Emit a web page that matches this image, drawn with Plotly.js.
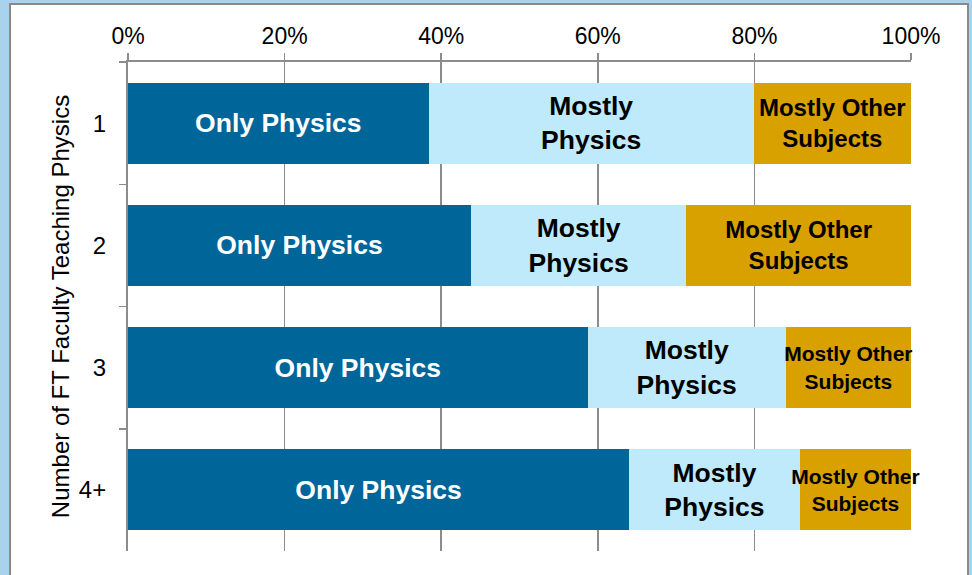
<!DOCTYPE html>
<html>
<head>
<meta charset="utf-8">
<script src="https://cdn.plot.ly/plotly-3.0.1.min.js"></script>
<style>
  html, body { margin: 0; padding: 0; background: #a9d3ec; overflow: hidden; width: 972px; height: 575px; }
  #frame { position: absolute; left: 9px; top: 3px; width: 956px; height: 580px; border: 2px solid #8a8a8a; background: #ffffff; }
  #chart { width: 956px; height: 572px; }
</style>
</head>
<body>
<div id="frame"><div id="chart"></div></div>
<script>
// Data (shares of departments)
const categories = ['1', '2', '3', '4+'];
const onlyPhysics = [0.384, 0.438, 0.587, 0.640];
const mostlyPhysics = [0.415, 0.275, 0.253, 0.218];
const mostlyOther = [0.201, 0.287, 0.160, 0.142];
const seriesNames = ['Only Physics', 'Mostly Physics', 'Mostly Other Subjects'];
const seriesLabels = ['Only Physics', 'Mostly<br>Physics', 'Mostly Other<br>Subjects'];
const xTickVals = [0, 0.2, 0.4, 0.6, 0.8, 1.0];
const xTickText = ['0%', '20%', '40%', '60%', '80%', '100%'];

const FONT = 'Liberation Sans, Arial, sans-serif';
const GRAY = '#8c8c8c';

function makeTrace(values, idx, color, textColor, sizes) {
  return {
    type: 'bar',
    orientation: 'h',
    y: categories,
    x: values,
    name: seriesNames[idx],
    marker: { color: color, line: { width: 0 } },
    text: categories.map(() => seriesLabels[idx]),
    textposition: 'inside',
    insidetextanchor: 'middle',
    constraintext: 'none',
    textangle: 0,
    textfont: { family: FONT, color: textColor, size: sizes, weight: 'bold' },
    hoverinfo: 'skip',
    cliponaxis: false
  };
}

const traces = [
  makeTrace(onlyPhysics, 0, '#006699', '#ffffff', 26.5),
  makeTrace(mostlyPhysics, 1, '#bfeafc', '#000000', 26.5),
  makeTrace(mostlyOther, 2, '#d9a100', '#000000', [24, 24, 21, 21])
];

const layout = {
  width: 956,
  height: 572,
  barmode: 'stack',
  bargap: 0.337,
  showlegend: false,
  paper_bgcolor: '#ffffff',
  plot_bgcolor: '#ffffff',
  margin: { l: 117, r: 56, t: 57, b: 26 },
  font: { family: FONT, color: '#000000' },
  xaxis: {
    side: 'top',
    range: [0, 1],
    tickvals: xTickVals,
    ticktext: xTickText,
    showgrid: true,
    gridcolor: GRAY,
    gridwidth: 1.5,
    zeroline: false,
    showline: true,
    linecolor: GRAY,
    linewidth: 2,
    ticks: 'outside',
    ticklen: 7,
    tickwidth: 1.5,
    tickcolor: GRAY,
    tickfont: { family: FONT, size: 23, color: '#000000' },
    fixedrange: true
  },
  yaxis: {
    type: 'category',
    autorange: 'reversed',
    tickson: 'boundaries',
    ticks: 'outside',
    ticklen: 7,
    tickwidth: 1.5,
    tickcolor: GRAY,
    showline: true,
    linecolor: GRAY,
    linewidth: 2,
    showgrid: false,
    zeroline: false,
    ticklabelstandoff: 15,
    tickfont: { family: FONT, size: 24, color: '#000000' },
    title: { text: 'Number of FT Faculty Teaching Physics', font: { family: FONT, size: 24, color: '#000000' }, standoff: 2 },
    fixedrange: true
  }
};

Plotly.newPlot('chart', traces, layout, { displayModeBar: false, staticPlot: true });
</script>
</body>
</html>
